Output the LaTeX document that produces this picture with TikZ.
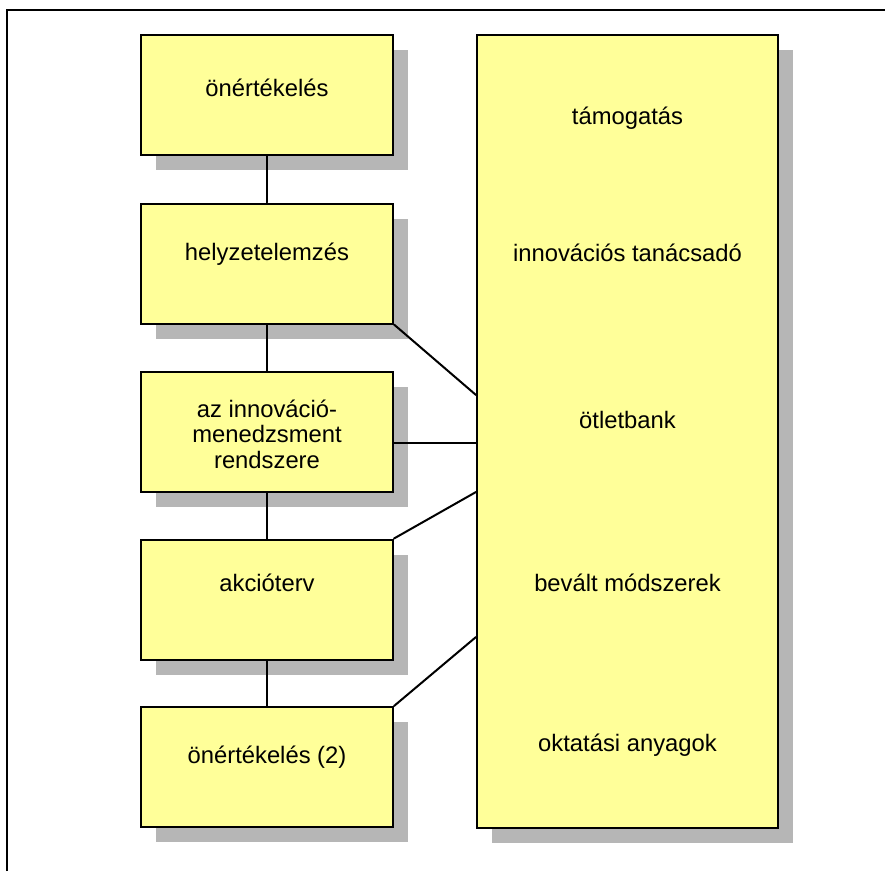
\documentclass[tikz,border=0pt]{standalone}
\usepackage{fontspec}
\setmainfont{Liberation Sans}
\usetikzlibrary{shadows}
\definecolor{boxyellow}{RGB}{255,255,153}
\definecolor{shadowgray}{RGB}{182,182,182}
\begin{document}
\begin{tikzpicture}[x=1pt,y=-1pt,
  box/.style={draw=black,line width=2pt,fill=boxyellow,rectangle,inner sep=0pt,
    drop shadow={shadow xshift=15pt,shadow yshift=-15pt,fill=shadowgray,opacity=1}},
  leftbox/.style={box,minimum width=252pt,minimum height=120pt},
  txt/.style={font=\fontsize{23.8}{25.5}\selectfont,align=center,inner sep=0pt},
  conn/.style={line width=2pt,line cap=round}]
\useasboundingbox (0,0) rectangle (885,871);
\draw[line width=2pt] (7,871) -- (7,10) -- (885,10);

\node[box,minimum width=301pt,minimum height=793pt] (R) at (627.5,431.5) {};
\node[leftbox] (b1) at (267,95) {};
\node[leftbox] (b2) at (267,263.5) {};
\node[leftbox] (b3) at (267,432) {};
\node[leftbox] (b4) at (267,599.5) {};
\node[leftbox] (b5) at (267,767) {};

\node[txt] (t1) at (267,88) {önértékelés};
\node[txt] (t2) at (267,254) {helyzetelemzés};
\node[txt] (t3) at (267,434) {az innováció-\\menedzsment\\rendszere};
\node[txt] (t4) at (267,583) {akcióterv};
\node[txt] (t5) at (267,757) {önértékelés (2)};

\node[txt] (r1) at (627.5,118) {támogatás};
\node[txt] (r2) at (627.5,253) {innovációs tanácsadó};
\node[txt] (r3) at (627.5,420) {ötletbank};
\node[txt] (r4) at (627.5,583) {bevált módszerek};
\node[txt] (r5) at (627.5,745) {oktatási anyagok};

\draw[conn] (b1.south) -- (b2.north);
\draw[conn] (b2.south) -- (b3.north);
\draw[conn] (b3.south) -- (b4.north);
\draw[conn] (b4.south) -- (b5.north);

\coordinate (p2) at (477,395);
\coordinate (p3) at (477,443);
\coordinate (p4) at (477,492);
\coordinate (p5) at (477,637);
\draw[conn] (b2.south east) -- (R.west |- p2);
\draw[conn] (b3.east |- p3) -- (R.west |- p3);
\draw[conn] (b4.north east) -- (R.west |- p4);
\draw[conn] (b5.north east) -- (R.west |- p5);
\end{tikzpicture}
\end{document}
